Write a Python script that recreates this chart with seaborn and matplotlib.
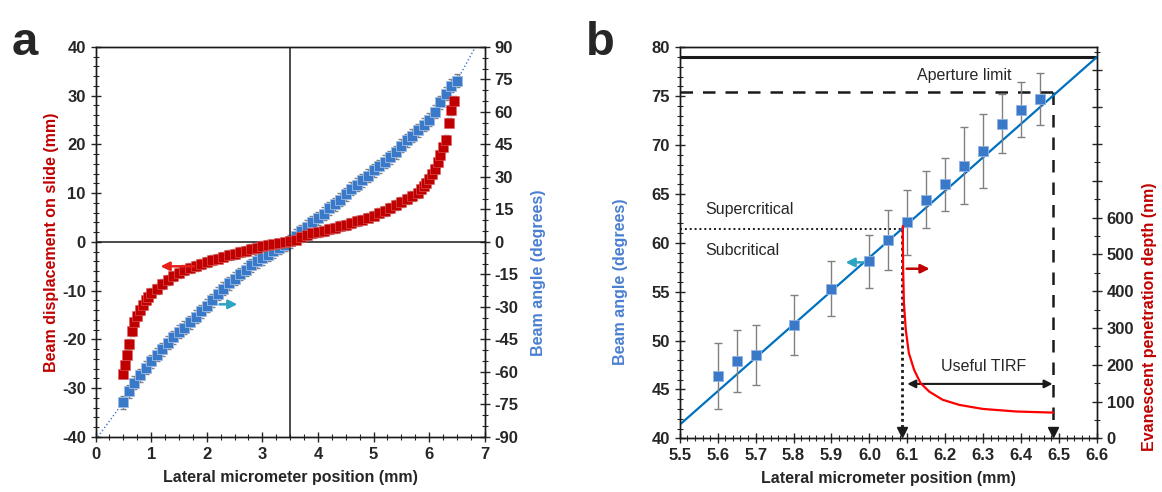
import matplotlib
matplotlib.use("Agg")
import matplotlib.pyplot as plt
import numpy as np
import pandas as pd
import seaborn as sns
from matplotlib.ticker import MultipleLocator, FormatStrFormatter

# ---- panel a data ----
red_pos = [0.50, 0.53, 0.56, 0.60, 0.65, 0.70, 0.75, 0.80, 0.85, 0.90, 0.95, 1.00,
           1.1, 1.2, 1.3, 1.4, 1.5, 1.6, 1.7, 1.8, 1.9, 2.0, 2.1, 2.2, 2.3, 2.4, 2.5,
           2.6, 2.7, 2.8, 2.9, 3.0, 3.1, 3.2, 3.3, 3.4, 3.5, 3.6, 3.7, 3.8, 3.9, 4.0,
           4.1, 4.2, 4.3, 4.4, 4.5, 4.6, 4.7, 4.8, 4.9, 5.0, 5.1, 5.2, 5.3, 5.4, 5.5,
           5.6, 5.7, 5.8, 5.85, 5.9, 5.95, 6.0, 6.05, 6.1, 6.15, 6.2, 6.25, 6.3, 6.35,
           6.4, 6.45]
red_disp = [-27.0, -25.3, -23.2, -21.0, -18.3, -16.5, -15.2, -14.0, -13.0, -12.0, -11.2, -10.5,
            -9.7, -8.6, -7.8, -7.0, -6.3, -5.8, -5.3, -4.9, -4.5, -4.1, -3.7, -3.4, -3.0, -2.7, -2.4,
            -2.1, -1.8, -1.5, -1.2, -0.9, -0.7, -0.5, -0.3, -0.1, 0.1, 0.5, 1.0, 1.4, 1.8, 2.1,
            2.3, 2.6, 2.9, 3.2, 3.5, 3.9, 4.3, 4.6, 5.0, 5.4, 5.9, 6.4, 7.0, 7.6, 8.2,
            8.8, 9.4, 10.0, 10.8, 11.4, 12.1, 13.0, 14.0, 15.0, 16.3, 17.8, 19.4, 21.0, 24.5,
            27.0, 29.0]
red_err = 1.0

blue_pos = [0.5, 0.6, 0.7, 0.8, 0.9, 1.0, 1.1, 1.2, 1.3, 1.4, 1.5, 1.6, 1.7, 1.8, 1.9,
            2.0, 2.1, 2.2, 2.3, 2.4, 2.5, 2.6, 2.7, 2.8, 2.9, 3.0, 3.1, 3.2, 3.3, 3.4,
            3.5, 3.6, 3.7, 3.8, 3.9, 4.0, 4.1, 4.2, 4.3, 4.4, 4.5, 4.6, 4.7, 4.8, 4.9,
            5.0, 5.1, 5.2, 5.3, 5.4, 5.5, 5.6, 5.7, 5.8, 5.9, 6.0, 6.1, 6.2, 6.3, 6.4, 6.5]
blue_angle = [-74, -69, -65, -61.5, -58, -55, -52, -49.5, -46.5, -44, -41.5, -39.5, -37, -34.5, -32,
              -29.5, -27, -24, -21.5, -19, -17, -14.8, -12.8, -10.8, -9, -7.5, -5.8, -4.2, -2.6, -1.2,
              0.3, 2.8, 5, 7, 9, 11, 13, 15.5, 17.5, 19.5, 22, 24.5, 26.5, 28.5, 30.5,
              33, 35, 37, 39, 41.5, 44.5, 47, 49, 51.5, 54, 56.5, 60, 64.5, 68.5, 72, 74.5]
blue_err = 3.0

# dotted fit: runs through the blue points and out to the plot corners
fit_a_pos = [0.04] + blue_pos + [6.83]
fit_a_angle = [-90] + blue_angle + [90]

# ---- panel b data ----
b_pos = [5.6, 5.65, 5.7, 5.8, 5.9, 6.0, 6.05, 6.1, 6.15, 6.2, 6.25, 6.3, 6.35, 6.4, 6.45]
b_angle = [46.4, 47.9, 48.5, 51.6, 55.3, 58.1, 60.3, 62.1, 64.4, 66.0, 67.9, 69.4, 72.2, 73.6, 74.7]
b_err = [3.4, 3.2, 3.05, 3.1, 2.8, 2.7, 3.1, 3.3, 2.9, 2.7, 3.9, 3.8, 3.0, 2.8, 2.7]

fit_b_pos = [5.5, 6.6]
fit_b_angle = [41.4, 79.0]

depth_pos = [6.088, 6.089, 6.091, 6.096, 6.104, 6.118, 6.135, 6.158, 6.193, 6.237,
             6.299, 6.388, 6.485]
depth_nm = [577, 459, 368, 295, 232, 186, 150, 127, 105, 91, 80, 73, 70]

aperture_angle = 79.0
max_angle = 75.4
max_pos = 6.483
critical_angle = 61.4
critical_pos = 6.086

RED = "#C00000"
BLUE = "#3A78C8"
BLUE_LBL = "#4A7FD0"
LINE_BLUE = "#0070C0"
TEAL = "#2FA3C4"
GRAY = "#808080"

sns.set_theme(style="ticks")
plt.rcParams["font.family"] = ["Liberation Sans", "DejaVu Sans"]
plt.rcParams["font.weight"] = "bold"
plt.rcParams["axes.linewidth"] = 1.0
plt.rcParams["axes.unicode_minus"] = False

fig = plt.figure(figsize=(11.62, 4.92), dpi=100)
axA = fig.add_axes([0.0822, 0.112, 0.335, 0.7925])
axA2 = axA.twinx()
axB = fig.add_axes([0.585, 0.109, 0.359, 0.795])
axB2 = axB.twinx()

# ================= panel a =================
red_df = pd.DataFrame({"pos": red_pos, "disp": red_disp})
blue_df = pd.DataFrame({"pos": blue_pos, "angle": blue_angle})

axA.axhline(0, color="k", lw=1.1, zorder=1)
axA.axvline(3.5, color="k", lw=1.1, zorder=1)
axA.errorbar(red_pos, red_disp, yerr=red_err, fmt="none", ecolor=GRAY, elinewidth=0.9,
             capsize=2, zorder=2)
sns.scatterplot(data=red_df, x="pos", y="disp", ax=axA, marker="s", s=42, color=RED,
                edgecolor="#E06060", linewidth=0.4, zorder=3)

axA2.plot(fit_a_pos, fit_a_angle, color=BLUE, lw=1.0, linestyle=":", zorder=1)
axA2.errorbar(blue_pos, blue_angle, yerr=blue_err, fmt="none", ecolor=GRAY, elinewidth=0.9,
              capsize=2, zorder=2)
sns.scatterplot(data=blue_df, x="pos", y="angle", ax=axA2, marker="s", s=42, color=BLUE,
                edgecolor="#9DBCE8", linewidth=0.6, zorder=3)

axA.annotate("", xy=(1.12, -5.0), xytext=(1.82, -5.0),
             arrowprops=dict(arrowstyle="-|>", color="#E8201A", lw=1.8, mutation_scale=13))
axA.annotate("", xy=(2.6, -12.8), xytext=(2.18, -12.8),
             arrowprops=dict(arrowstyle="-|>", color=TEAL, lw=1.8, mutation_scale=13))

axA.set_xlim(0, 7)
axA.set_ylim(-40, 40)
axA2.set_ylim(-90, 90)
axA.xaxis.set_major_locator(MultipleLocator(1))
axA.xaxis.set_minor_locator(MultipleLocator(0.25))
axA.yaxis.set_major_locator(MultipleLocator(10))
axA.yaxis.set_minor_locator(MultipleLocator(2))
axA2.yaxis.set_major_locator(MultipleLocator(15))
axA2.yaxis.set_minor_locator(MultipleLocator(5))
axA.set_xlabel("Lateral micrometer position (mm)", fontsize=11.5, weight="bold", labelpad=6)
axA.set_ylabel("Beam displacement on slide (mm)", fontsize=11.5, weight="bold", color=RED,
               labelpad=2)
axA2.set_ylabel("Beam angle (degrees)", fontsize=11.5, weight="bold", color=BLUE_LBL,
                labelpad=4)
axA2.yaxis.set_label_coords(1.12, 0.42)

# ================= panel b =================
bdf = pd.DataFrame({"pos": b_pos, "angle": b_angle})
axB.axhline(aperture_angle, color="k", lw=2.2, zorder=2)
axB.plot([5.5, max_pos], [max_angle, max_angle], color="k", lw=1.8, ls=(0, (5, 4)))
axB.plot([max_pos, max_pos], [max_angle, 41.0], color="k", lw=1.8, ls=(0, (5, 4)))
axB.plot([max_pos], [40.7], marker="v", color="k", ms=7, clip_on=False)
axB.plot([5.5, critical_pos], [critical_angle, critical_angle], color="k", lw=1.4, ls=(0, (1, 1.5)))
axB.plot([critical_pos, critical_pos], [critical_angle, 41.0], color="k", lw=2.0, ls=(0, (1, 1.2)))
axB.plot([critical_pos], [40.7], marker="v", color="k", ms=7, clip_on=False)

sns.lineplot(x=fit_b_pos, y=fit_b_angle, ax=axB, color=LINE_BLUE, lw=1.6, zorder=3)
axB.errorbar(b_pos, b_angle, yerr=b_err, fmt="none", ecolor=GRAY, elinewidth=1.0,
             capsize=3, zorder=4)
sns.scatterplot(data=bdf, x="pos", y="angle", ax=axB, marker="s", s=55, color=BLUE,
                edgecolor="#8FB2E6", linewidth=0.6, zorder=5)

axB.annotate("", xy=(5.93, 58.0), xytext=(5.995, 58.0),
             arrowprops=dict(arrowstyle="-|>", color=TEAL, lw=1.8, mutation_scale=13))
axB.annotate("", xy=(6.166, 57.35), xytext=(6.091, 57.35),
             arrowprops=dict(arrowstyle="-|>", color=RED, lw=1.8, mutation_scale=13))
axB.annotate("", xy=(max_pos, 45.57), xytext=(6.1, 45.57),
             arrowprops=dict(arrowstyle="<|-|>", color="k", lw=1.5, mutation_scale=12,
                             shrinkA=0, shrinkB=0))

axB.text(6.3, 47.35, "Useful TIRF", fontsize=11.5, weight="normal", ha="center", va="center")
axB.text(6.25, 76.3, "Aperture limit", fontsize=11.5, weight="normal", ha="center", va="bottom")
axB.text(5.566, 62.6, "Supercritical", fontsize=11.5, weight="normal", ha="left", va="bottom")
axB.text(5.566, 59.25, "Subcritical", fontsize=11.5, weight="normal", ha="left", va="center")

sns.lineplot(x=depth_pos, y=depth_nm, ax=axB2, color="#FF0000", lw=1.6, sort=False)

axB.set_xlim(5.5, 6.6)
axB.set_ylim(40, 80)
axB2.set_ylim(0, 1063)
axB.xaxis.set_major_locator(MultipleLocator(0.1))
axB.xaxis.set_minor_locator(MultipleLocator(0.02))
axB.xaxis.set_major_formatter(FormatStrFormatter("%.1f"))
axB.yaxis.set_major_locator(MultipleLocator(5))
axB.yaxis.set_minor_locator(MultipleLocator(1))
depth_ticks = list(range(0, 1001, 100))
axB2.set_yticks(depth_ticks)
axB2.set_yticklabels([str(v) if v <= 600 else "" for v in depth_ticks])
axB2.yaxis.set_minor_locator(MultipleLocator(50))
axB.set_xlabel("Lateral micrometer position (mm)", fontsize=11.5, weight="bold", labelpad=6)
axB.set_ylabel("Beam angle (degrees)", fontsize=11.5, weight="bold", color=BLUE_LBL)
axB.yaxis.set_label_coords(-0.125, 0.40)
axB2.set_ylabel("Evanescent penetration depth (nm)", fontsize=11.5, weight="bold", color=RED)
axB2.yaxis.set_label_coords(1.108, 0.31)

for ax in (axA, axA2, axB, axB2):
    ax.tick_params(which="major", direction="inout", length=7, width=1.0, labelsize=12)
    ax.tick_params(which="minor", direction="inout", length=4, width=0.8)
    for lbl in ax.get_xticklabels() + ax.get_yticklabels():
        lbl.set_fontweight("bold")
    for sp in ax.spines.values():
        sp.set_visible(True)
        sp.set_color("k")
axA.set_zorder(axA2.get_zorder() + 1)
axA.patch.set_visible(False)
axB2.set_zorder(axB.get_zorder() + 1)
axB2.patch.set_visible(False)

fig.text(0.010, 0.888, "a", fontsize=34, weight="bold")
fig.text(0.504, 0.888, "b", fontsize=34, weight="bold")

fig.savefig("out.png", dpi=100)
